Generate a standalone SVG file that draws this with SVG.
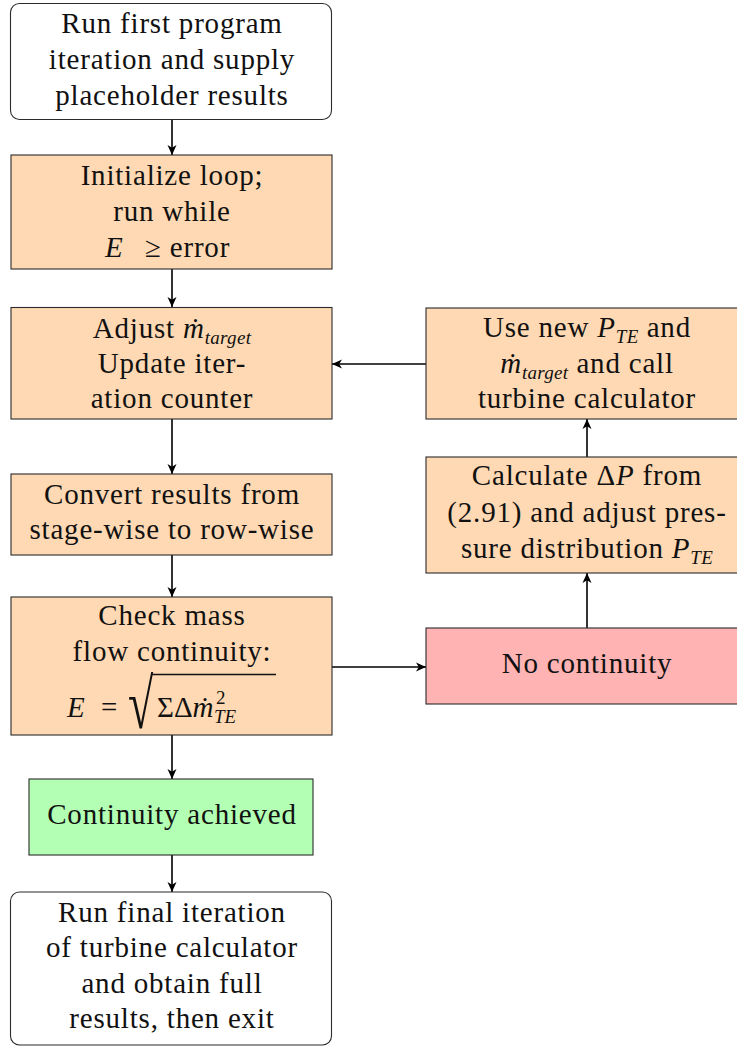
<svg xmlns="http://www.w3.org/2000/svg" width="737" height="1046" viewBox="0 0 737 1046" font-family="Liberation Serif">
  <style>
    .box { stroke: #2b2b2b; stroke-width: 1.1; }
    .plain { fill: #ffffff; }
    .step { fill: #ffd9b3; }
    .fail { fill: #ffb3b3; }
    .ok { fill: #b3ffb3; }
    text { font-family: Liberation Serif; font-size: 29px; fill: #111; letter-spacing: 0.8px; }
    .c { text-anchor: middle; }
    .i { font-style: italic; }
    .sub { font-style: italic; font-size: 19px; letter-spacing: 0.3px; }
    .m { letter-spacing: 0; }
    .rad { font-size: 46px; }
    .edge { stroke: #000; stroke-width: 1.6; fill: none; marker-end: url(#tip); }
  </style>
  <defs>
    <marker id="tip" markerUnits="userSpaceOnUse" markerWidth="11" markerHeight="10" refX="10" refY="5" orient="auto">
      <path d="M0,0.5 L10,5 L0,9.5 L2.8,5 Z" fill="#000"/>
    </marker>
  </defs>

  <!-- connectors -->
  <g id="connectors">
    <line class="edge" x1="172" y1="120" x2="172" y2="155"/>
    <line class="edge" x1="172" y1="269" x2="172" y2="307"/>
    <line class="edge" x1="172" y1="419" x2="172" y2="474"/>
    <line class="edge" x1="172" y1="555" x2="172" y2="597"/>
    <line class="edge" x1="172" y1="735" x2="172" y2="779"/>
    <line class="edge" x1="172" y1="855" x2="172" y2="892"/>
    <line class="edge" x1="332" y1="667" x2="426" y2="667"/>
    <line class="edge" x1="587" y1="628" x2="587" y2="573"/>
    <line class="edge" x1="587" y1="457" x2="587" y2="419"/>
    <line class="edge" x1="426" y1="364" x2="332" y2="364"/>
  </g>

  <!-- start -->
  <g id="start">
    <rect class="box plain" x="10.5" y="3.5" width="321" height="116" rx="9"/>
    <text class="c" x="172" y="33">Run first program</text>
    <text class="c" x="172" y="69">iteration and supply</text>
    <text class="c" x="172" y="105">placeholder results</text>
  </g>

  <!-- loop initialisation -->
  <g id="init">
    <rect class="box step" x="11" y="155" width="321" height="114"/>
    <text class="c" x="172" y="185">Initialize loop;</text>
    <text class="c" x="172" y="221">run while</text>
    <text class="i m" x="105" y="257">E</text>
    <text x="145" y="257">≥ error</text>
  </g>

  <!-- adjust mass flow target -->
  <g id="adjust">
    <rect class="box step" x="11" y="307.5" width="321" height="111.5"/>
    <text class="c" x="172" y="338">Adjust <tspan class="i">ṁ</tspan><tspan class="sub" dy="6">target</tspan></text>
    <text class="c" x="172" y="373">Update iter-</text>
    <text class="c" x="172" y="408">ation counter</text>
  </g>

  <!-- conversion -->
  <g id="convert">
    <rect class="box step" x="11" y="474" width="321" height="81"/>
    <text class="c" x="172" y="504">Convert results from</text>
    <text class="c" x="172" y="539">stage-wise to row-wise</text>
  </g>

  <!-- continuity check -->
  <g id="check">
    <rect class="box step" x="11" y="597" width="321" height="138"/>
    <text class="c" x="172" y="625">Check mass</text>
    <text class="c" x="172" y="661">flow continuity:</text>
    <text class="i m" x="67" y="717">E</text>
    <text class="m" x="101" y="717">=</text>
    <text class="m rad" x="0" y="0" transform="translate(128,728) scale(1,1.54)">√</text>
    <line x1="152" y1="674.5" x2="276" y2="674.5" stroke="#111" stroke-width="1.4"/>
    <text class="m" x="157" y="717">ΣΔ<tspan class="i">ṁ</tspan></text>
    <text class="sub m" x="216" y="704" style="font-style:normal">2</text>
    <text class="sub m" x="214" y="723">TE</text>
  </g>

  <!-- converged -->
  <g id="achieved">
    <rect class="box ok" x="29" y="779" width="284" height="76"/>
    <text class="c" x="172" y="824">Continuity achieved</text>
  </g>

  <!-- final run -->
  <g id="finish">
    <rect class="box plain" x="10.5" y="892" width="321" height="153" rx="9"/>
    <text class="c" x="172" y="922">Run final iteration</text>
    <text class="c" x="172" y="957">of turbine calculator</text>
    <text class="c" x="172" y="993">and obtain full</text>
    <text class="c" x="172" y="1028">results, then exit</text>
  </g>

  <!-- not converged -->
  <g id="no-continuity">
    <rect class="box fail" x="426" y="628" width="322" height="76"/>
    <text class="c" x="587" y="673">No continuity</text>
  </g>

  <!-- pressure correction -->
  <g id="pressure">
    <rect class="box step" x="426" y="457" width="322" height="116"/>
    <text class="c" x="587" y="485">Calculate Δ<tspan class="i">P</tspan> from</text>
    <text class="c" x="587" y="522">(2.91) and adjust pres-</text>
    <text class="c" x="587" y="558">sure distribution <tspan class="i">P</tspan><tspan class="sub" dy="6">TE</tspan></text>
  </g>

  <!-- recalculation -->
  <g id="recalc">
    <rect class="box step" x="426" y="308" width="322" height="111"/>
    <text class="c" x="587" y="337">Use new <tspan class="i">P</tspan><tspan class="sub" dy="6">TE</tspan><tspan dy="-6"> and</tspan></text>
    <text class="c" x="587" y="373"><tspan class="i">ṁ</tspan><tspan class="sub" dy="6">target</tspan><tspan dy="-6"> and call</tspan></text>
    <text class="c" x="587" y="408">turbine calculator</text>
  </g>
</svg>
